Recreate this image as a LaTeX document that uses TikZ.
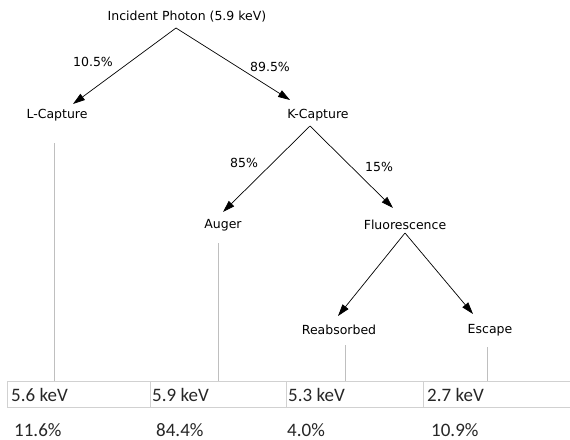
\documentclass[tikz,border=0pt]{standalone}
\usepackage{fontspec}
\setmainfont{DejaVu Sans}
\newfontfamily\cellfont{Carlito}
\usetikzlibrary{arrows.meta}
\tikzset{
  lbl/.style={inner sep=0pt, font=\fontsize{12.5}{14}\selectfont, text=black},
  cell/.style={inner sep=0pt, anchor=west, font=\cellfont\fontsize{19}{22}\selectfont, text=black!85},
  arr/.style={draw=black, line width=0.7pt, -{Triangle[length=12pt,width=7.5pt]}},
  drop/.style={draw=black!25, line width=1pt},
  grid/.style={draw=black!18, line width=1pt}
}
\begin{document}
\begin{tikzpicture}[x=1pt,y=-1pt]
\useasboundingbox (0,0) rectangle (570,439);
% tree labels
\node[lbl] (photon) at (187,17) {Incident Photon (5.9 keV)};
\node[lbl] (lcap) at (57,115) {L-Capture};
\node[lbl] (kcap) at (318,115) {K-Capture};
\node[lbl] (auger) at (223,225) {Auger};
\node[lbl] (fluor) at (405,225) {Fluorescence};
\node[lbl] (reab) at (339,330) {Reabsorbed};
\node[lbl] (esc) at (490,330) {Escape};
% percentages
\node[lbl] (p1) at (93,62) {10.5\%};
\node[lbl] (p2) at (270,67) {89.5\%};
\node[lbl] (p3) at (244,163) {85\%};
\node[lbl] (p4) at (379,167) {15\%};
% connector points
\coordinate (a0) at (176,28);
\coordinate (tL) at (73,104);
\coordinate (tK) at (290,100);
\coordinate (a1) at (310,126);
\coordinate (tA) at (223,212);
\coordinate (tF) at (393,208);
\coordinate (a2) at (405,233);
\coordinate (tR) at (338,316);
\coordinate (tE) at (473,314);
\draw[arr] (a0) -- (tL);
\draw[arr] (a0) -- (tK);
\draw[arr] (a1) -- (tA);
\draw[arr] (a1) -- (tF);
\draw[arr] (a2) -- (tR);
\draw[arr] (a2) -- (tE);
% table
\coordinate (tl) at (7,381);
\coordinate (tr) at (570,381);
\coordinate (bl) at (7,407);
\coordinate (br) at (570,407);
\draw[grid] (tl) -- (tr);
\draw[grid] (bl) -- (br);
\draw[grid] (tl) -- (bl);
\draw[grid] (150,381) -- (150,407);
\draw[grid] (286,381) -- (286,407);
\draw[grid] (423,381) -- (423,407);
% drop lines
\coordinate (dL) at (54,381);
\coordinate (dA) at (218,381);
\coordinate (dR) at (345,381);
\coordinate (dE) at (487,381);
\draw[drop] (54,143) -- (dL);
\draw[drop] (218,243) -- (dA);
\draw[drop] (345,345) -- (dR);
\draw[drop] (487,347) -- (dE);
% cells
\node[cell] (c1) at (11,395) {5.6 keV};
\node[cell] (c2) at (152,395) {5.9 keV};
\node[cell] (c3) at (288,395) {5.3 keV};
\node[cell] (c4) at (427,395) {2.7 keV};
\node[cell] (r1) at (14,430) {11.6\%};
\node[cell] (r2) at (156,430) {84.4\%};
\node[cell] (r3) at (287,430) {4.0\%};
\node[cell] (r4) at (431,430) {10.9\%};
\end{tikzpicture}
\end{document}
